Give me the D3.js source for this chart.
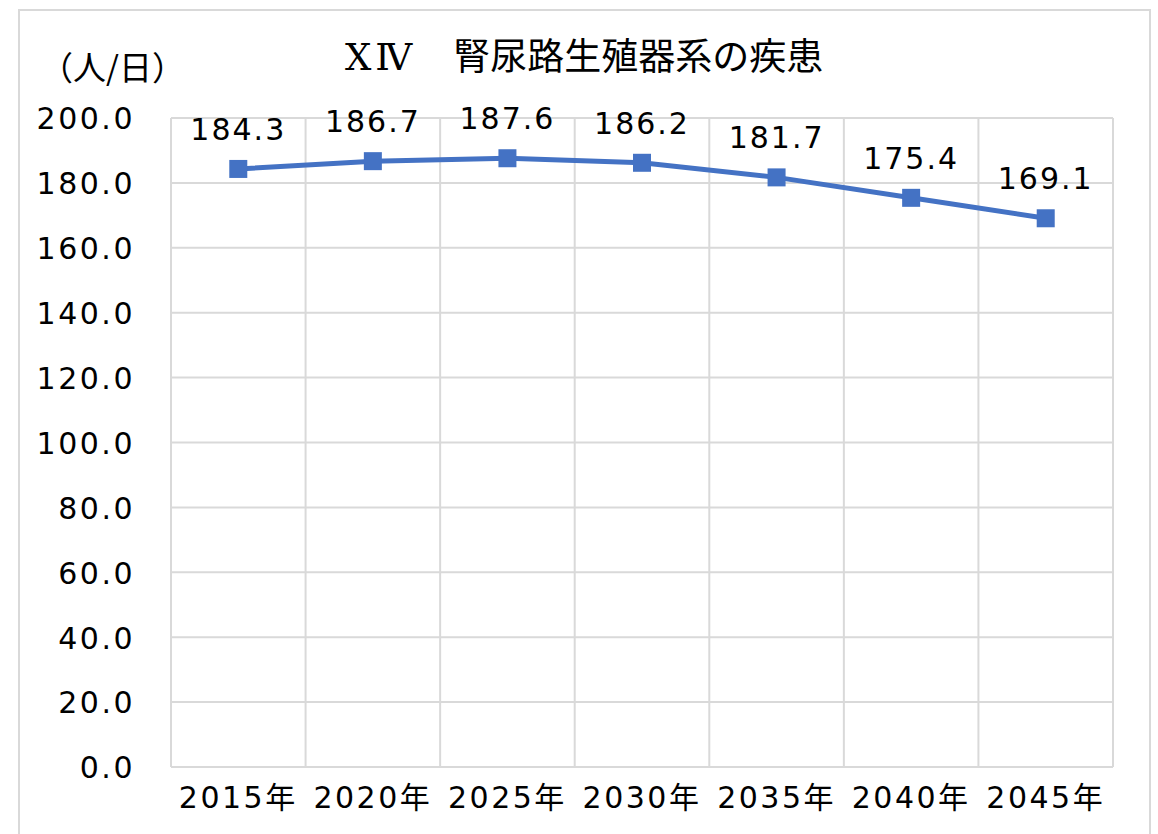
<!DOCTYPE html>
<html><head><meta charset="utf-8">
<script src="https://cdn.jsdelivr.net/npm/d3@7"></script>
<style>body{margin:0;background:#fff;}svg{display:block;}</style>
</head><body>
<script>
const categories = ["2015年","2020年","2025年","2030年","2035年","2040年","2045年"];
const values = [184.3,186.7,187.6,186.2,181.7,175.4,169.1];
const yTicks = [0,20,40,60,80,100,120,140,160,180,200];
const titleNum = "ⅩⅣ";
const titleText = "　腎尿路生殖器系の疾患";
const unitLabel = "（人/日）";

const W=1158,H=834;
const m={left:171,right:W-1113,top:118,bottom:H-767};
const svg=d3.select("body").append("svg").attr("width",W).attr("height",H);
svg.append("rect").attr("x",19).attr("y",10).attr("width",1131).attr("height",840)
  .attr("fill","#fff").attr("stroke","#d9d9d9").attr("stroke-width",2);

const x=d3.scaleBand().domain(categories).range([m.left,W-m.right]);
const y=d3.scaleLinear().domain([0,200]).range([H-m.bottom,m.top]);
const font='"DejaVu Sans","Noto Sans CJK JP",sans-serif';
const cjk='"Noto Sans CJK JP",sans-serif';

svg.append("g").selectAll("line").data(yTicks).join("line")
  .attr("x1",m.left).attr("x2",W-m.right).attr("y1",d=>y(d)).attr("y2",d=>y(d))
  .attr("stroke","#d9d9d9").attr("stroke-width",2);
const edges=categories.map(c=>x(c)).concat([x(categories[categories.length-1])+x.bandwidth()]);
svg.append("g").selectAll("line").data(edges).join("line")
  .attr("x1",d=>d).attr("x2",d=>d).attr("y1",m.top).attr("y2",H-m.bottom)
  .attr("stroke","#d9d9d9").attr("stroke-width",2);

const yAxis=d3.axisLeft(y).tickValues(yTicks).tickFormat(d3.format(".1f")).tickSize(0).tickPadding(36);
const ga=svg.append("g").attr("transform",`translate(${m.left},0)`).call(yAxis);
ga.select(".domain").remove();
ga.selectAll("text").attr("font-family",font).attr("font-size",30).attr("fill","#000")
  .attr("letter-spacing","2.5px").attr("dy","0.36em");

const xAxis=d3.axisBottom(x).tickSize(0).tickPadding(20);
const gx=svg.append("g").attr("transform",`translate(0,${H-m.bottom})`).call(xAxis);
gx.select(".domain").remove();
gx.selectAll("text").attr("font-family",font).attr("font-size",30).attr("fill","#000")
  .attr("letter-spacing","2.5px");

const cx=d=>x(d.c)+x.bandwidth()/2;
const data=categories.map((c,i)=>({c,v:values[i]}));
svg.append("path").datum(data).attr("fill","none").attr("stroke","#4472C4").attr("stroke-width",5)
  .attr("d",d3.line().x(cx).y(d=>y(d.v)));
svg.append("g").selectAll("rect").data(data).join("rect")
  .attr("x",d=>cx(d)-9).attr("y",d=>y(d.v)-9).attr("width",18).attr("height",18)
  .attr("fill","#4472C4");
svg.append("g").selectAll("text").data(data).join("text")
  .attr("x",cx).attr("y",d=>y(d.v)-29).attr("text-anchor","middle")
  .attr("font-family",font).attr("font-size",30).attr("letter-spacing","2px").text(d=>d.v.toFixed(1));

const t=svg.append("text").attr("x",345).attr("y",70).attr("font-size",37);
t.append("tspan").attr("font-family",'"DejaVu Serif","Liberation Serif",serif').attr("letter-spacing","4px").text(titleNum);
t.append("tspan").attr("font-family",cjk).text(titleText);
svg.append("text").attr("x",40).attr("y",80).attr("font-family",cjk)
  .attr("font-size",33).text(unitLabel);
</script>
</body></html>
